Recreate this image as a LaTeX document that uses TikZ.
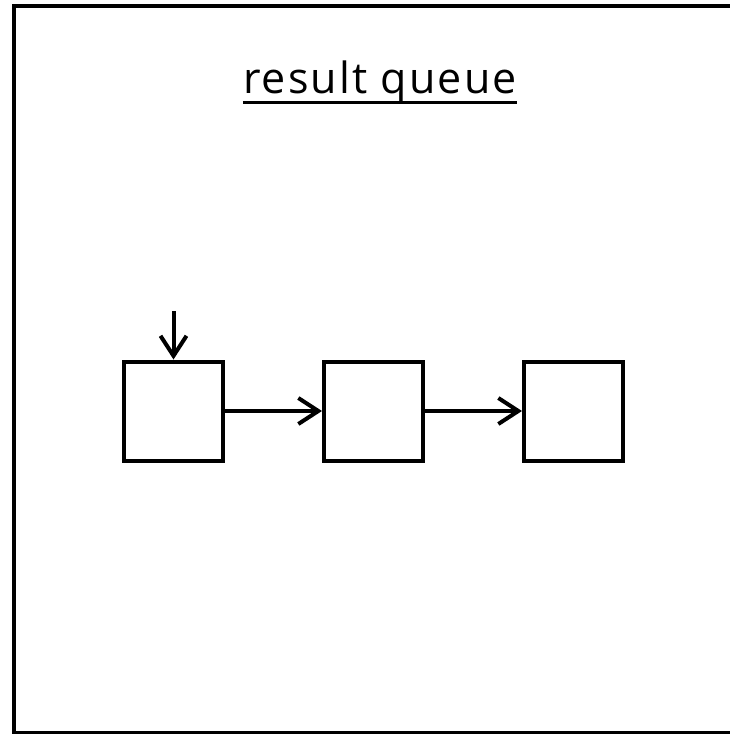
\documentclass[tikz,border=0pt]{standalone}
\usepackage{fontspec}
\setmainfont{Open Sans}
\newfontfamily\titlefont[LetterSpace=5]{Open Sans}
\usetikzlibrary{arrows.meta}

\begin{document}
\begin{tikzpicture}[x=1pt, y=-1pt,
  cell/.style={draw, line width=4pt, minimum size=99pt, inner sep=0pt},
  link/.style={line width=4pt, -{Straight Barb[length=20pt, width=26pt, line width=4pt]}},
  frame/.style={line width=4pt},
  heading/.style={inner sep=0pt, font=\titlefont\fontsize{43}{50}\selectfont}
]
  \useasboundingbox (0,0) rectangle (730,734);

  % outer frame, open on the right
  \draw[frame] (735,6) -- (14,6) -- (14,733) -- (735,733);

  % title with its underline
  \node[heading, anchor=base] (title) at (380,93) {result queue};
  \draw[line width=3pt] ([yshift=-9pt]title.base west) -- ([yshift=-9pt]title.base east);

  % queue cells
  \node[cell] (first)  at (173.5,411) {};
  \node[cell] (second) at (373.5,411) {};
  \node[cell] (third)  at (573.5,411) {};

  % head pointer and links
  \coordinate (head) at (173.5,311);
  \draw[link] (head) -- (first.north);
  \draw[link] (first.east) -- (second.west);
  \draw[link] (second.east) -- (third.west);
\end{tikzpicture}
\end{document}
